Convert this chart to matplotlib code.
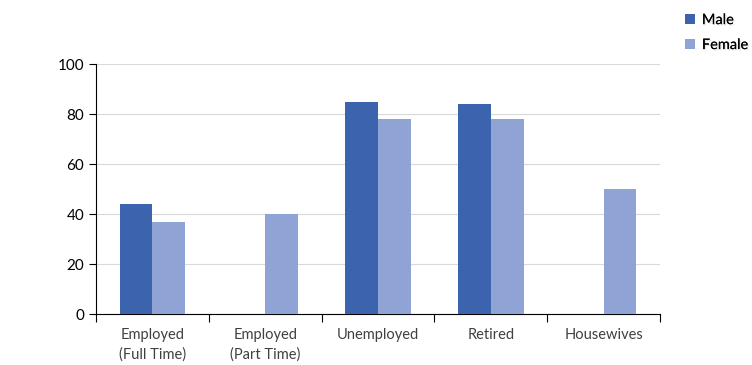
import matplotlib.pyplot as plt
import matplotlib.patheffects as pe
import numpy as np

categories = ["Employed\n(Full Time)", "Employed\n(Part Time)", "Unemployed", "Retired", "Housewives"]
male = [44, 0, 85, 84, 0]
female = [37, 40, 78, 78, 50]

plt.rcParams['font.family'] = ['Lato', 'DejaVu Sans']

fig = plt.figure(figsize=(7.52, 3.65), dpi=100)
ax = fig.add_axes([96/752, 51/365, 564/752, 250/365])

x = np.arange(len(categories))
w = 0.29
b1 = ax.bar(x - w/2, male, w, color="#3C64AE", label="Male", zorder=3)
b2 = ax.bar(x + w/2, female, w, color="#8FA4D4", label="Female", zorder=3)

ax.set_xlim(-0.5, len(categories) - 0.5)
ax.set_ylim(0, 100)
ax.set_yticks(range(0, 101, 20))
ax.grid(axis="y", color="#D9D9D9", linewidth=0.8, zorder=0)
ax.set_xticks(x)
ax.set_xticklabels(categories, fontsize=10.5, color="#404040", linespacing=1.45)
ax.set_xticks(np.arange(-0.5, len(categories)), minor=True)
ax.tick_params(axis="x", which="major", length=0, pad=10)
ax.tick_params(axis="x", which="minor", length=6, width=0.8, direction="out")
ax.tick_params(axis="y", labelsize=11, length=5, width=0.8, colors="black", labelcolor="black")
for s in ["top", "right"]:
    ax.spines[s].set_visible(False)
ax.spines["left"].set_linewidth(0.8)
ax.spines["bottom"].set_linewidth(0.8)

leg = fig.legend(handles=[b1, b2], loc="upper left", bbox_to_anchor=(672/752, 1.0),
                 frameon=False, fontsize=10.5, handlelength=0.65, handleheight=0.65,
                 labelspacing=0.75, handletextpad=0.5)
for t in leg.get_texts():
    t.set_path_effects([pe.withSimplePatchShadow(offset=(1, -1), alpha=0.1), pe.Normal()])

fig.savefig("out.png", dpi=100)
